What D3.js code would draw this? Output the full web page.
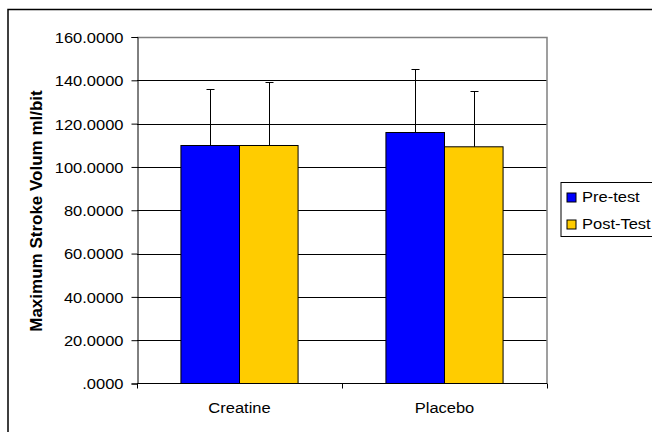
<!DOCTYPE html>
<html>
  <head>
    <meta charset="UTF-8" />
    <style>
      body { margin: 0; background: #fff; }
      text { font-family: "Liberation Sans", Arial, sans-serif; }
    </style>
  </head>
  <body>
    <svg></svg>
    <script src="https://d3js.org/d3.v7.min.js"></script>
    <script>
      const groups = ["Creatine", "Placebo"];
      const seriesNames = ["Pre-test", "Post-Test"];
      const preTest = [109.9, 115.9];
      const postTest = [109.9, 109.3];
      const preErr = [26.2, 29.4];
      const postErr = [29.4, 25.9];
      const yTicks = [0, 20, 40, 60, 80, 100, 120, 140, 160];
      const colors = ["#0000ff", "#ffcc00"];

      let width = 652,
        height = 432;
      let svg = d3.select("svg").attr("width", width).attr("height", height);

      const plotL = 137, plotT = 37, plotR = 547, plotB = 383.5;
      const sx = 1.1; // the picture is a bit wide in x

      // outer frame
      svg.append("rect")
        .attr("x", 8).attr("y", 9.5)
        .attr("width", 700).attr("height", 500)
        .attr("fill", "none").attr("stroke", "#000").attr("stroke-width", 1.5);

      const x = d3.scaleBand().domain(groups).range([plotL, plotR]).padding(0);
      const xs = d3.scaleBand().domain(seriesNames)
        .range([0, x.bandwidth()]).paddingInner(0).paddingOuter(0.75);
      const y = d3.scaleLinear().domain([0, 160]).range([plotB, plotT]);

      // grid lines
      svg.append("g")
        .selectAll("line")
        .data(yTicks.filter((d) => d > 0 && d < 160))
        .enter()
        .append("line")
        .attr("x1", plotL).attr("x2", plotR)
        .attr("y1", (d) => Math.round(y(d)) + 0.5)
        .attr("y2", (d) => Math.round(y(d)) + 0.5)
        .attr("stroke", "#000");

      // plot border top & right (grey)
      svg.append("path")
        .attr("d", `M${plotL},${Math.round(plotT) + 0.5}H${plotR}V${plotB}`)
        .attr("fill", "none").attr("stroke", "#808080").attr("stroke-width", 1.5);

      const rows = groups.map((g, i) => [
        { g: g, s: seriesNames[0], v: preTest[i], e: preErr[i] },
        { g: g, s: seriesNames[1], v: postTest[i], e: postErr[i] },
      ]).flat();

      // error bars
      const eb = svg.append("g").attr("stroke", "#000").attr("stroke-width", 1);
      rows.forEach((d) => {
        const cx = Math.round(x(d.g) + xs(d.s) + xs.bandwidth() / 2) + 0.5;
        eb.append("line").attr("x1", cx).attr("x2", cx)
          .attr("y1", y(d.v)).attr("y2", Math.round(y(d.v + d.e)) + 0.5);
        eb.append("line").attr("x1", cx - 4).attr("x2", cx + 4)
          .attr("y1", Math.round(y(d.v + d.e)) + 0.5)
          .attr("y2", Math.round(y(d.v + d.e)) + 0.5);
      });

      // bars
      svg.append("g")
        .selectAll("rect")
        .data(rows)
        .enter()
        .append("rect")
        .attr("x", (d) => x(d.g) + xs(d.s))
        .attr("y", (d) => y(d.v))
        .attr("width", xs.bandwidth())
        .attr("height", (d) => plotB - y(d.v))
        .attr("fill", (d) => colors[seriesNames.indexOf(d.s)])
        .attr("stroke", "#000")
        .attr("stroke-width", 1);

      // y axis
      const fmt = (d) => d3.format(".4f")(d).replace(/^0\./, ".");
      const yAxis = svg.append("g")
        .attr("transform", `translate(${plotL + 0.5},0)`)
        .call(d3.axisLeft(y).tickValues(yTicks).tickSize(6).tickFormat(fmt));
      yAxis.select(".domain").attr("stroke", "#000");
      yAxis.selectAll(".tick line").attr("stroke", "#000");
      yAxis.selectAll(".tick text")
        .attr("x", 0).attr("dy", "0.36em")
        .attr("transform", `translate(-14,0) scale(${sx},1)`)
        .attr("font-size", 15).attr("fill", "#000")
        .attr("font-family", "Liberation Sans, Arial, sans-serif");

      // x axis: ticks sit on band edges
      svg.append("line")
        .attr("x1", plotL).attr("x2", plotR)
        .attr("y1", plotB).attr("y2", plotB)
        .attr("stroke", "#000");
      const edges = groups.map((g) => x(g)).concat([plotR]);
      svg.append("g")
        .selectAll("line")
        .data(edges)
        .enter()
        .append("line")
        .attr("x1", (d) => Math.round(d) + 0.5).attr("x2", (d) => Math.round(d) + 0.5)
        .attr("y1", plotB).attr("y2", plotB + 5)
        .attr("stroke", "#000");
      svg.append("g")
        .selectAll("text")
        .data(groups)
        .enter()
        .append("text")
        .attr("transform", (d) => `translate(${x(d) + x.bandwidth() / 2},413) scale(${sx},1)`)
        .attr("text-anchor", "middle")
        .attr("font-size", 15)
        .text((d) => d);

      // y title
      svg.append("text")
        .attr("transform", "translate(42,211) rotate(-90)")
        .attr("text-anchor", "middle")
        .attr("font-size", 17)
        .attr("font-weight", "bold")
        .text("Maximum Stroke Volum ml/bit");

      // legend
      const legend = svg.append("g").attr("id", "legend");
      legend.append("rect")
        .attr("x", 561).attr("y", 182.5)
        .attr("width", 120).attr("height", 54)
        .attr("fill", "#fff").attr("stroke", "#000");
      const li = legend.selectAll("g.item")
        .data(seriesNames)
        .enter()
        .append("g")
        .attr("class", "item")
        .attr("transform", (d, i) => `translate(567,${193 + i * 27})`);
      li.append("rect")
        .attr("width", 9).attr("height", 9)
        .attr("fill", (d, i) => colors[i])
        .attr("stroke", "#000");
      li.append("text")
        .attr("transform", `translate(15,9) scale(${sx},1)`)
        .attr("font-size", 15)
        .text((d) => d);
    </script>
  </body>
</html>
